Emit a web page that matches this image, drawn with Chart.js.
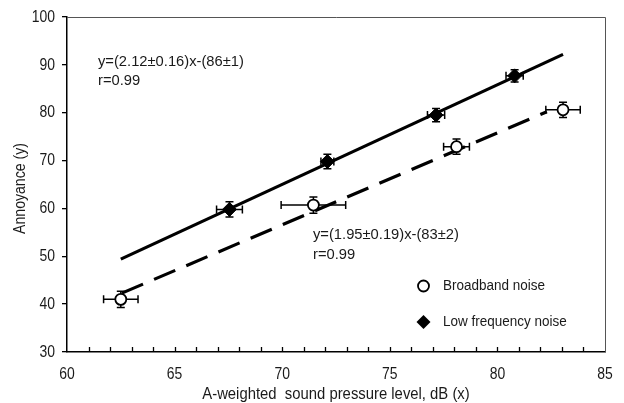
<!DOCTYPE html>
<html>
<head>
<meta charset="utf-8">
<script src="https://cdn.jsdelivr.net/npm/chart.js@4.4.1/dist/chart.umd.min.js"></script>
<style>
  html, body { margin: 0; padding: 0; background: #fff; }
  #wrap { width: 624px; height: 403px; }
</style>
</head>
<body>
<div id="wrap"><canvas id="c" width="624" height="403"></canvas></div>
<script>
(function () {
    'use strict';

    // Broadband noise (open circles)
    var bbX = [62.5, 71.45, 78.1, 83.05];
    var bbY = [41.0, 60.7, 72.9, 80.6];
    var bbXErr = [0.8, 1.5, 0.6, 0.8];
    var bbYErr = [1.7, 1.7, 1.6, 1.6];

    // Low frequency noise (filled diamonds)
    var lfX = [67.55, 72.1, 77.15, 80.8];
    var lfY = [59.8, 69.8, 79.5, 87.7];
    var lfXErr = [0.6, 0.3, 0.4, 0.4];
    var lfYErr = [1.6, 1.5, 1.4, 1.3];

    // Regression lines (end points)
    var lfFitX = [62.5, 83.05];
    var lfFitY = [49.4, 92.2];
    var bbFitX = [62.55, 82.3];
    var bbFitY = [42.3, 80.2];

    var xTicks = [60, 65, 70, 75, 80, 85];
    var yTicks = [30, 40, 50, 60, 70, 80, 90, 100];

    var fontFamily = "'Liberation Sans', Arial, sans-serif";
    var ink = '#1a1a1a';

    var toPoints = function (xs, ys) {
        return xs.map(function (x, i) { return { x: x, y: ys[i] }; });
    };

    var errors = {
        0: { x: bbX, y: bbY, ex: bbXErr, ey: bbYErr },
        1: { x: lfX, y: lfY, ex: lfXErr, ey: lfYErr }
    };

    // text squeezed horizontally to look like a narrow face
    var narrowText = function (ctx, text, x, y, size, sx, align, rot) {
        ctx.save();
        ctx.translate(x, y);
        if (rot) ctx.rotate(rot);
        ctx.scale(sx, 1);
        ctx.font = size + 'px ' + fontFamily;
        ctx.textAlign = align || 'left';
        ctx.textBaseline = 'middle';
        ctx.fillStyle = ink;
        ctx.fillText(text, 0, 0);
        ctx.restore();
    };

    // frame on top / right and small inside ticks on the x axis
    var framePlugin = {
        id: 'frame',
        beforeDatasetsDraw: function (chart) {
            var ctx = chart.ctx, a = chart.chartArea, xs = chart.scales.x;
            ctx.save();
            ctx.strokeStyle = '#555';
            ctx.lineWidth = 1;
            ctx.beginPath();
            ctx.moveTo(a.left, a.top + 0.5);
            ctx.lineTo(a.right + 0.5, a.top + 0.5);
            ctx.lineTo(a.right + 0.5, a.bottom);
            ctx.stroke();
            ctx.strokeStyle = '#000';
            ctx.lineWidth = 1.3;
            ctx.beginPath();
            for (var v = xs.min + 1; v < xs.max; v++) {
                var px = Math.round(xs.getPixelForValue(v)) + 0.5;
                ctx.moveTo(px, a.bottom);
                ctx.lineTo(px, a.bottom - 5);
            }
            ctx.stroke();
            ctx.restore();
        }
    };

    // tick labels and axis titles
    var axisTextPlugin = {
        id: 'axisText',
        afterDraw: function (chart) {
            var ctx = chart.ctx, xs = chart.scales.x, ys = chart.scales.y, a = chart.chartArea;
            xTicks.forEach(function (v) {
                narrowText(ctx, String(v), xs.getPixelForValue(v), a.bottom + 22, 17, 0.82, 'center');
            });
            yTicks.forEach(function (v) {
                narrowText(ctx, String(v), a.left - 12, ys.getPixelForValue(v), 17, 0.82, 'right');
            });
            narrowText(ctx, 'A-weighted  sound pressure level, dB (x)', (a.left + a.right) / 2, a.bottom + 42, 16.5, 0.9, 'center');
            narrowText(ctx, 'Annoyance (y)', 21, (a.top + a.bottom) / 2 + 4, 16, 0.88, 'center', -Math.PI / 2);
        }
    };

    // error bars drawn just before the markers of their series
    var errorBarPlugin = {
        id: 'errorBars',
        beforeDatasetDraw: function (chart, args) {
            var e = errors[args.index];
            if (!e) return;
            var ctx = chart.ctx, xs = chart.scales.x, ys = chart.scales.y, cap = 4;
            ctx.save();
            ctx.strokeStyle = '#000';
            ctx.lineWidth = 1.5;
            ctx.beginPath();
            e.x.forEach(function (x, i) {
                var cx = xs.getPixelForValue(x), cy = ys.getPixelForValue(e.y[i]);
                var x0 = xs.getPixelForValue(x - e.ex[i]), x1 = xs.getPixelForValue(x + e.ex[i]);
                var y0 = ys.getPixelForValue(e.y[i] - e.ey[i]), y1 = ys.getPixelForValue(e.y[i] + e.ey[i]);
                ctx.moveTo(x0, cy); ctx.lineTo(x1, cy);
                ctx.moveTo(x0, cy - cap); ctx.lineTo(x0, cy + cap);
                ctx.moveTo(x1, cy - cap); ctx.lineTo(x1, cy + cap);
                ctx.moveTo(cx, y0); ctx.lineTo(cx, y1);
                ctx.moveTo(cx - cap, y0); ctx.lineTo(cx + cap, y0);
                ctx.moveTo(cx - cap, y1); ctx.lineTo(cx + cap, y1);
            });
            ctx.stroke();
            ctx.restore();
        }
    };

    // regression equations and the legend inside the plot
    var notesPlugin = {
        id: 'notes',
        afterDatasetsDraw: function (chart) {
            var ctx = chart.ctx;
            narrowText(ctx, 'y=(2.12\u00b10.16)x-(86\u00b11)', 98, 62, 15.5, 0.95);
            narrowText(ctx, 'r=0.99', 98, 81, 15.5, 0.95);
            narrowText(ctx, 'y=(1.95\u00b10.19)x-(83\u00b12)', 313, 235, 15.5, 0.95);
            narrowText(ctx, 'r=0.99', 313, 255, 15.5, 0.95);

            narrowText(ctx, 'Broadband noise', 443, 286, 15.5, 0.87);
            narrowText(ctx, 'Low frequency noise', 443, 322, 15.5, 0.87);

            ctx.save();
            ctx.lineWidth = 1.8;
            ctx.strokeStyle = '#000';
            ctx.fillStyle = '#fff';
            ctx.beginPath();
            ctx.arc(423.5, 286, 5.5, 0, Math.PI * 2);
            ctx.fill();
            ctx.stroke();
            ctx.fillStyle = '#000';
            ctx.beginPath();
            ctx.moveTo(423.5, 315);
            ctx.lineTo(430.5, 322);
            ctx.lineTo(423.5, 329);
            ctx.lineTo(416.5, 322);
            ctx.closePath();
            ctx.fill();
            ctx.restore();
        }
    };

    Chart.defaults.font.family = fontFamily;
    Chart.defaults.color = ink;

    new Chart(document.getElementById('c').getContext('2d'), {
        type: 'scatter',
        data: {
            datasets: [
                {
                    label: 'Broadband noise',
                    data: toPoints(bbX, bbY),
                    pointStyle: 'circle',
                    pointRadius: 5.5,
                    pointBorderWidth: 1.8,
                    borderColor: '#000',
                    backgroundColor: '#fff',
                    order: 0
                },
                {
                    label: 'Low frequency noise',
                    data: toPoints(lfX, lfY),
                    pointStyle: 'rectRot',
                    pointRadius: 7,
                    pointBorderWidth: 1,
                    borderColor: '#000',
                    backgroundColor: '#000',
                    order: 0
                },
                {
                    label: 'fit low',
                    data: toPoints(lfFitX, lfFitY),
                    showLine: true,
                    pointRadius: 0,
                    borderColor: '#000',
                    borderWidth: 3.2,
                    order: 2
                },
                {
                    label: 'fit broad',
                    data: toPoints(bbFitX, bbFitY),
                    showLine: true,
                    pointRadius: 0,
                    borderColor: '#000',
                    borderWidth: 3.2,
                    borderDash: [23, 12],
                    order: 2
                }
            ]
        },
        options: {
            responsive: false,
            animation: false,
            events: [],
            layout: { padding: { top: 17, right: 19, left: 0, bottom: 0 } },
            plugins: { legend: { display: false }, tooltip: { enabled: false } },
            scales: {
                x: {
                    type: 'linear',
                    min: 60,
                    max: 85,
                    afterBuildTicks: function (s) { s.ticks = xTicks.map(function (v) { return { value: v }; }); },
                    afterFit: function (s) { s.height = 51; },
                    grid: { display: false },
                    border: { display: true, color: '#000', width: 1.5 },
                    ticks: { display: false }
                },
                y: {
                    type: 'linear',
                    min: 30,
                    max: 100,
                    afterBuildTicks: function (s) { s.ticks = yTicks.map(function (v) { return { value: v }; }); },
                    afterFit: function (s) { s.width = 67; },
                    grid: { drawOnChartArea: false, drawTicks: true, tickLength: 5, color: '#000', lineWidth: 1.3 },
                    border: { display: true, color: '#000', width: 1.5 },
                    ticks: { display: false }
                }
            }
        },
        plugins: [framePlugin, errorBarPlugin, notesPlugin, axisTextPlugin]
    });
})();
</script>
</body>
</html>
